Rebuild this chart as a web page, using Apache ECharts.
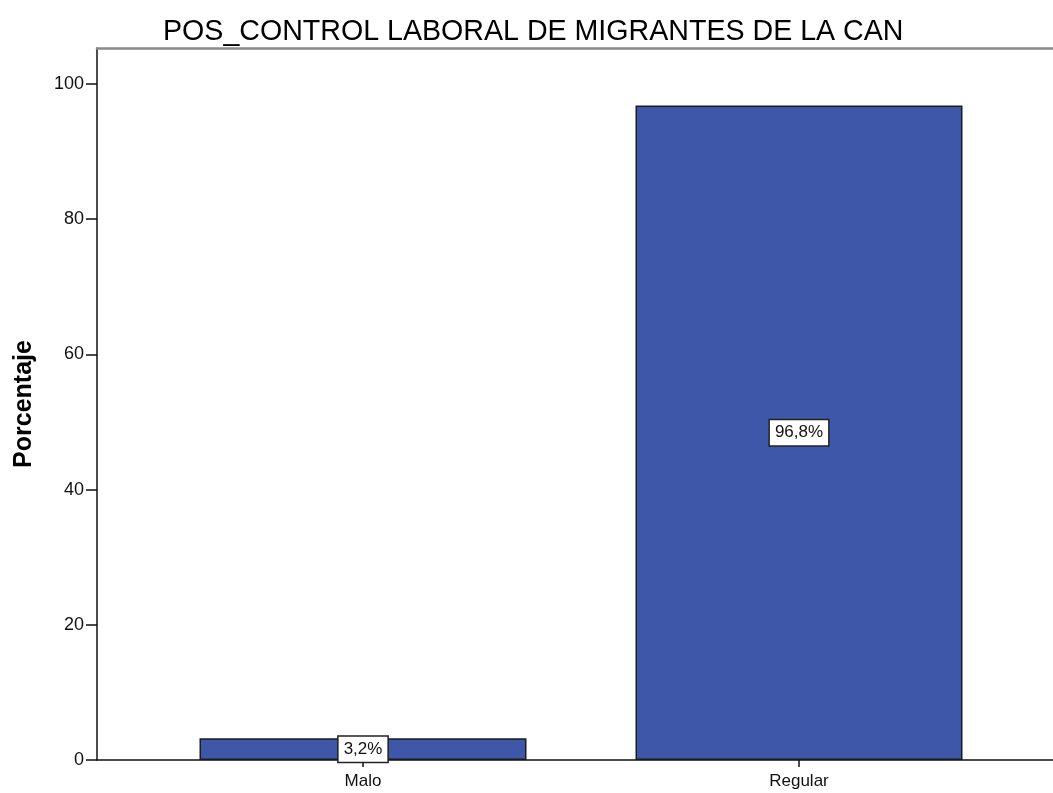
<!DOCTYPE html>
<html>
<head>
<meta charset="utf-8">
<title>POS_CONTROL LABORAL DE MIGRANTES DE LA CAN</title>
<script src="https://cdn.jsdelivr.net/npm/echarts@6/dist/echarts.min.js"></script>
<style>
  html, body { margin: 0; padding: 0; background: #fff; }
  #charsId { width: 1053px; height: 793px; }
</style>
</head>
<body>
<div id="charsId"></div>
<script>
// datos del grafico
var categorias = ['Malo', 'Regular'];
var porcentajes = [3.2, 96.8];
var yTicks = [0, 20, 40, 60, 80, 100];

var fuente = '"Liberation Sans", Arial, sans-serif';
var yMax = 105.3;

function etiqueta(p) {
	// 96.8 -> "96,8%"
	return p.value.toFixed(1).replace('.', ',') + '%';
}

var myChart = echarts.init(document.getElementById('charsId'));

var option = {
	backgroundColor: '#ffffff',
	animation: false,
	title: {
		text: 'POS_CONTROL LABORAL DE MIGRANTES DE LA CAN',
		left: 158,
		top: 13,
		textStyle: { fontFamily: fuente, fontSize: 28.6, fontWeight: 'normal', color: '#000' }
	},
	grid: [
		// marco + eje Y
		{ left: 97, right: 0, top: 48, bottom: 33 },
		// barras
		{ left: 145, right: 36, top: 48, bottom: 33 }
	],
	xAxis: [
		{
			gridIndex: 0, type: 'value', min: 0, max: 1, position: 'bottom',
			axisLine: { show: true, lineStyle: { color: '#111', width: 1.5 } },
			axisTick: { show: false }, axisLabel: { show: false }, splitLine: { show: false }
		},
		{
			gridIndex: 0, type: 'value', min: 0, max: 1, position: 'top',
			axisLine: { show: true, lineStyle: { color: '#8a8a8a', width: 2.5 } },
			axisTick: { show: false }, axisLabel: { show: false }, splitLine: { show: false }
		},
		{
			gridIndex: 1, type: 'category', data: categorias,
			axisLine: { show: false },
			axisTick: { show: true, alignWithLabel: true, length: 7, lineStyle: { color: '#111', width: 1.5 } },
			axisLabel: { fontFamily: fuente, fontSize: 17, color: '#111', margin: 13 }
		}
	],
	yAxis: [
		{
			gridIndex: 0, type: 'value', min: 0, max: yMax, interval: 20,
			name: 'Porcentaje', nameLocation: 'middle', nameGap: 60, nameRotate: 90,
			nameTextStyle: { fontFamily: fuente, fontSize: 25, fontWeight: 'bold', color: '#000' },
			axisLine: { show: true, lineStyle: { color: '#111', width: 1.5 } },
			axisTick: { show: true, length: 11, customValues: yTicks, lineStyle: { color: '#111', width: 1.5 } },
			axisLabel: {
				fontFamily: fuente, fontSize: 18, color: '#111', margin: 13,
				customValues: yTicks
			},
			splitLine: { show: false }
		},
		{
			gridIndex: 1, type: 'value', min: 0, max: yMax, show: false
		}
	],
	series: [{
		type: 'bar',
		xAxisIndex: 2,
		yAxisIndex: 1,
		data: porcentajes,
		barWidth: '75%',
		itemStyle: { color: '#3e57a9', borderColor: '#1c1c1c', borderWidth: 1.5 },
		label: {
			show: true,
			position: 'inside',
			formatter: etiqueta,
			fontFamily: fuente,
			fontSize: 17,
			color: '#111',
			backgroundColor: '#fff',
			borderColor: '#222',
			borderWidth: 1.5,
			padding: [4, 5]
		}
	}]
};

myChart.setOption(option);
</script>
</body>
</html>
